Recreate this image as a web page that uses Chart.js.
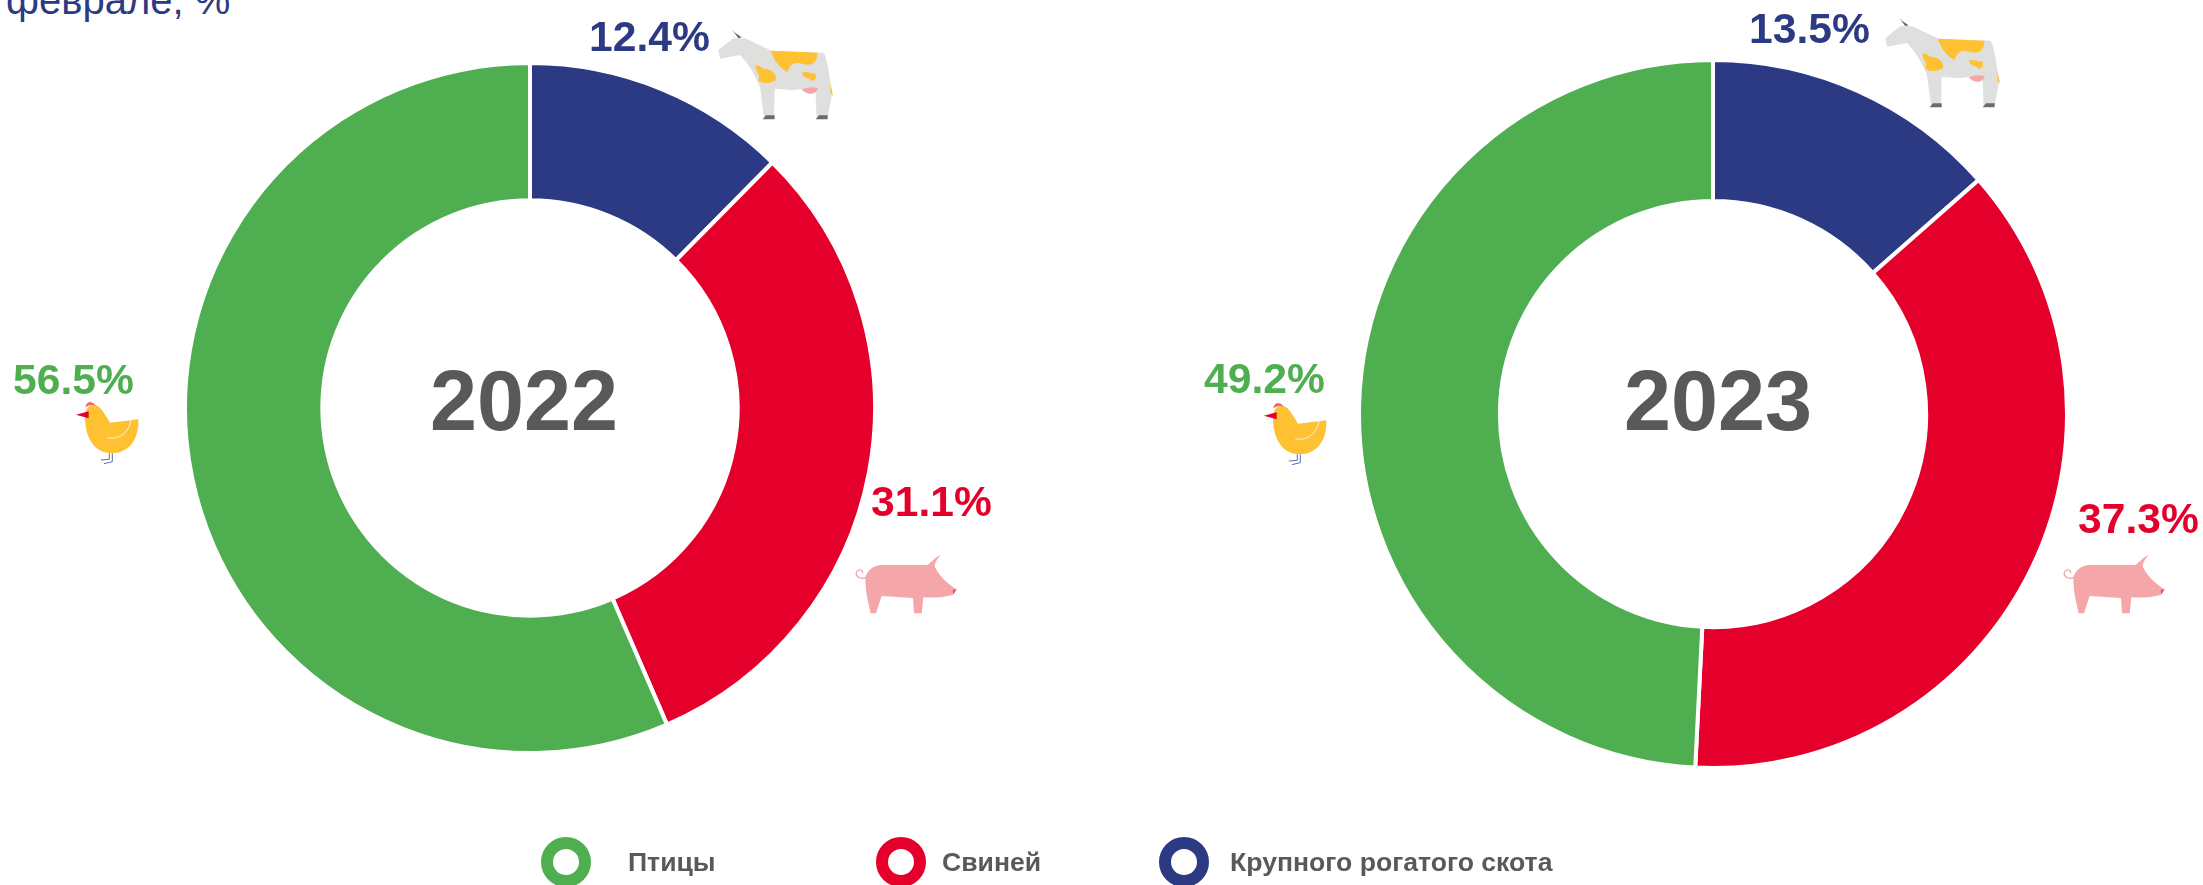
<!doctype html>
<html>
  <head>
    <meta charset="utf-8">
    <title>Donuts</title>
    <script src="https://cdn.jsdelivr.net/npm/chart.js@4"></script>
    <style>
      html, body { margin: 0; padding: 0; background: #fff; overflow: hidden; }
      body { position: relative; width: 2203px; height: 885px; font-family: "Liberation Sans", Arial, sans-serif; }
      canvas { position: absolute; }
      .txt { position: absolute; white-space: nowrap; line-height: 1; transform: translateY(-50%); }
      .pct { font-size: 42.6px; font-weight: bold; }
      .year { font-size: 84.5px; font-weight: bold; color: #595959; }
      .leg { font-size: 26.6px; font-weight: bold; color: #595959; }
      .ring { position: absolute; box-sizing: border-box; width: 50px; height: 50px; border-radius: 50%; border: 12px solid; }
      #title { position: absolute; left: 6px; top: -20px; font-size: 40px; line-height: 1; color: #2c3a83; white-space: nowrap; }
      svg { position: absolute; left: 0; top: 0; }
    </style>
  </head>
  <body>
    <div id="title">феврале, %</div>
    <canvas id="chart2022"></canvas>
    <canvas id="chart2023"></canvas>
    <svg width="2203" height="885" viewBox="0 0 2203 885">
      <defs>
        <g id="hen">
          <path fill="#fdc131" d="M255 232 C255 205 268 193 285 195 C300 197 310 215 330 248 L415 238 C418 300 385 340 335 340 C285 340 255 295 255 232 Z"/>
          <path fill="none" stroke="#fff" stroke-width="2.5" d="M322 293 C350 300 385 285 393 240"/>
          <path fill="#ee6a6a" d="M256 202 C258 186 272 178 288 197 C275 192 265 196 256 202 Z"/>
          <path fill="#e4002b" d="M228 224 L266 214 L266 235 Z"/>
          <path fill="none" stroke="#5a6cb0" stroke-width="3" d="M328 340 V358 L303 360 M337 340 V365 L312 371"/>
        </g>
        <g id="pig">
          <path fill="#f5a6a8" d="M76 325 C82 297 105 285 125 285 L263 285 C275 275 285 262 303 255 C290 268 283 280 285 292 C300 320 325 345 350 358 L340 374 C310 382 280 384 250 382 L245 430 L222 430 L219 384 L125 378 L108 430 L92 430 C85 400 76 365 76 325 Z"/>
          <path fill="none" stroke="#f5a6a8" stroke-width="4" d="M78 322 C60 330 46 318 49 307 C53 296 70 298 68 310"/>
          <path fill="#e4526a" d="M350 358 L340 373 L338 360 Z"/>
        </g>
        <g id="cow">
          <path fill="#dfdfde" d="M55 120 L100 85 L135 85 L215 122 L370 128 C382 140 392 210 395 260 L383 322 L350 322 L346 240 C325 232 300 238 275 240 L224 236 L222 322 L192 322 L180 232 C170 205 150 165 120 135 L60 146 Z"/>
          <path fill="#fdc131" d="M212 122 L352 128 C352 155 340 172 300 160 C280 155 270 165 262 186 C240 175 222 150 212 122 Z"/>
          <path fill="#fdc131" d="M166 168 C180 163 182 176 200 178 C220 180 232 200 228 210 C210 222 188 222 176 212 C182 195 168 185 166 168 Z"/>
          <path fill="#fdc131" d="M306 188 C320 182 330 192 345 190 C352 200 345 215 335 212 C328 200 310 208 306 188 Z"/>
          <path fill="#fdc131" d="M391 215 L399 258 L392 250 Z"/>
          <path fill="#f5a6a8" d="M305 238 C320 232 340 230 353 234 C352 250 325 262 305 238 Z"/>
          <path fill="#6b6b6b" d="M188 328 L198 316 L224 316 L224 328 Z M347 328 L357 316 L383 316 L383 328 Z M97 60 L115 85 L125 82 L105 68 Z"/>
        </g>
      </defs>
      <use href="#hen" transform="translate(0,340) scale(0.3333)"/>
      <use href="#hen" transform="translate(1188,341) scale(0.3333)"/>
      <use href="#pig" transform="translate(840,470) scale(0.3333)"/>
      <use href="#pig" transform="translate(2048,470) scale(0.3333)"/>
      <use href="#cow" transform="translate(700,10) scale(0.3333)"/>
      <use href="#cow" transform="translate(1867,-2) scale(0.3333)"/>
    </svg>
    <script>
      const categories = ["Крупного рогатого скота", "Свиней", "Птицы"];
      const colors = ["#2c3a83", "#e4002b", "#4fae50"];
      const values2022 = [12.4, 31.1, 56.5];
      const values2023 = [13.5, 37.3, 49.2];
      const legendOrder = ["Птицы", "Свиней", "Крупного рогатого скота"];

      function add_text(cls, text, x, y, color) {
        const el = document.createElement("div");
        el.className = "txt " + cls;
        el.textContent = text;
        el.style.left = x + "px";
        el.style.top = y + "px";
        if (color) el.style.color = color;
        document.body.appendChild(el);
      }

      function make_donut(id, values, cx, cy, r) {
        const canvas = document.getElementById(id);
        const size = 2 * r;
        canvas.width = size;
        canvas.height = size;
        canvas.style.left = cx - r + "px";
        canvas.style.top = cy - r + "px";
        return new Chart(canvas.getContext("2d"), {
          type: "doughnut",
          data: {
            labels: categories,
            datasets: [
              {
                data: values,
                backgroundColor: colors,
                borderColor: "#fff",
                borderWidth: 4,
              },
            ],
          },
          options: {
            responsive: false,
            animation: false,
            cutout: "60.2%",
            layout: { padding: 0 },
            plugins: { legend: { display: false }, tooltip: { enabled: false } },
          },
        });
      }

      make_donut("chart2022", values2022, 530, 408, 347);
      make_donut("chart2023", values2023, 1713, 414, 356);

      add_text("year", "2022", 430, 401);
      add_text("year", "2023", 1624, 401);

      add_text("pct", values2022[0].toFixed(1) + "%", 589, 36, colors[0]);
      add_text("pct", values2022[1].toFixed(1) + "%", 871, 501, colors[1]);
      add_text("pct", values2022[2].toFixed(1) + "%", 13, 379, colors[2]);
      add_text("pct", values2023[0].toFixed(1) + "%", 1749, 28, colors[0]);
      add_text("pct", values2023[1].toFixed(1) + "%", 2078, 518, colors[1]);
      add_text("pct", values2023[2].toFixed(1) + "%", 1204, 378, colors[2]);

      // legend, ring + label
      const legendRingX = [566, 901, 1184];
      const legendTextX = [628, 942, 1230];
      legendOrder.forEach((name, i) => {
        const ring = document.createElement("div");
        ring.className = "ring";
        ring.style.left = legendRingX[i] - 25 + "px";
        ring.style.top = "837px";
        ring.style.borderColor = colors[categories.indexOf(name)];
        document.body.appendChild(ring);
        add_text("leg", name, legendTextX[i], 862);
      });
    </script>
  </body>
</html>
